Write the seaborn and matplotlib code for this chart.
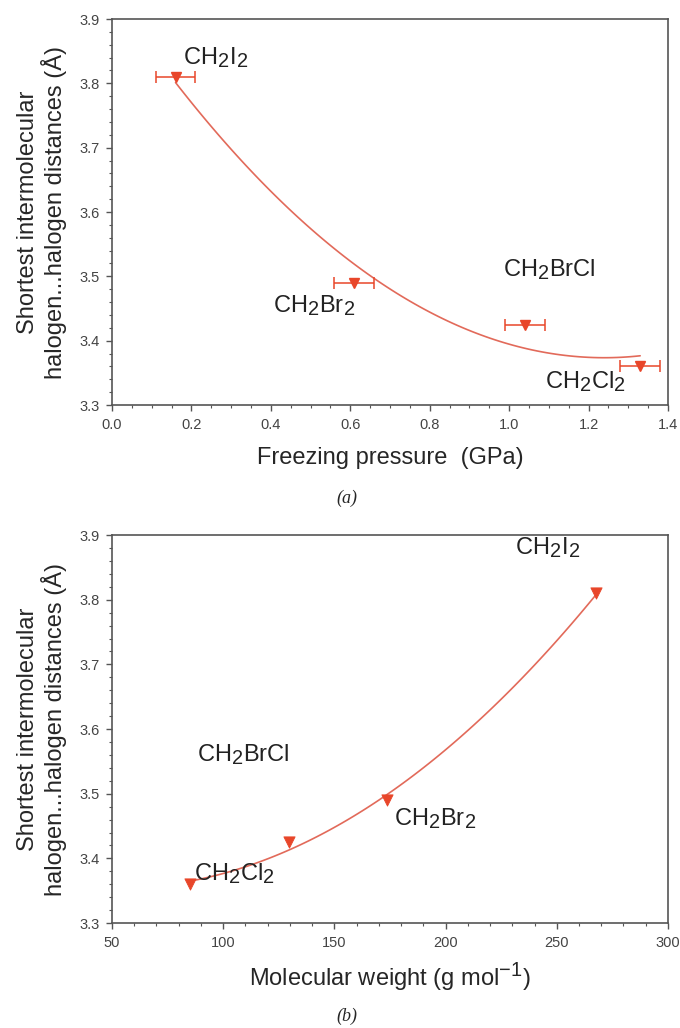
import numpy as np
import pandas as pd
import seaborn as sns
import matplotlib.pyplot as plt
import matplotlib._mathtext as mathtext_internal
from matplotlib.ticker import MultipleLocator

# data
compounds = ["CH$_2$I$_2$", "CH$_2$Br$_2$", "CH$_2$BrCl", "CH$_2$Cl$_2$"]
freeze_p = [0.16, 0.61, 1.04, 1.33]          # GPa
freeze_err = [0.05, 0.05, 0.05, 0.05]
mol_wt = [267.84, 173.83, 129.38, 84.93]      # g/mol
dist = [3.81, 3.49, 3.425, 3.36]              # Angstrom

df = pd.DataFrame({"name": compounds, "p": freeze_p, "perr": freeze_err,
                   "mw": mol_wt, "d": dist})

# label anchor points (data coords)
lab_a = [(0.18, 3.84), (0.405, 3.455), (0.985, 3.51), (1.09, 3.336)]
lab_b = [(231, 3.88), (177, 3.462), (88, 3.56), (87, 3.377)]

sns.set_style("white")
plt.rcParams['font.family'] = ['Liberation Sans', 'DejaVu Sans']
plt.rcParams['mathtext.default'] = 'regular'
# the original uses nearly full-size subscripts
mathtext_internal.SHRINK_FACTOR = 0.85

mark_c = "#e8462a"
line_c = "#e26a5a"
spine_c = "#555555"
ylab = "Shortest intermolecular\nhalogen...halogen distances (Å)"
FS = 17

fig = plt.figure(figsize=(6.8, 10.28), dpi=100)
ax1 = fig.add_axes([0.1647, 0.606, 0.8176, 0.3755])
ax2 = fig.add_axes([0.1647, 0.1021, 0.8176, 0.3774])


def style(ax):
    for s in ax.spines.values():
        s.set_color(spine_c)
        s.set_linewidth(1.2)
    ax.tick_params(axis="both", which="both", direction="out", colors=spine_c,
                   labelcolor="#444444", labelsize=10.5, top=False, right=False,
                   left=True, bottom=True)
    ax.tick_params(which="major", length=4, width=1, pad=5)
    ax.tick_params(which="minor", length=2.5, width=0.8)
    ax.set_ylim(3.3, 3.9)
    ax.yaxis.set_major_locator(MultipleLocator(0.1))
    ax.yaxis.set_minor_locator(MultipleLocator(0.02))
    ax.set_ylabel(ylab, fontsize=FS, labelpad=9, linespacing=1.1)


# (a) freezing pressure
sns.regplot(data=df, x="p", y="d", order=2, ci=None, scatter=False,
            truncate=True, ax=ax1, line_kws=dict(color=line_c, lw=1.2))
ax1.errorbar(df["p"], df["d"], xerr=df["perr"], fmt="v", color=mark_c,
             ms=7.5, capsize=4, elinewidth=1.1, capthick=1.1)
for n, (x, y) in zip(df["name"], lab_a):
    ax1.text(x, y, n, fontsize=FS, ha="left", va="center", color="#222222")
style(ax1)
ax1.set_xlim(0, 1.4)
ax1.xaxis.set_major_locator(MultipleLocator(0.2))
ax1.xaxis.set_minor_locator(MultipleLocator(0.05))
ax1.xaxis.set_major_formatter(lambda v, pos: f"{v:.1f}")
ax1.set_xlabel("Freezing pressure  (GPa)", fontsize=FS, labelpad=11)

# (b) molecular weight
sns.regplot(data=df, x="mw", y="d", order=2, ci=None, scatter=False,
            truncate=True, ax=ax2, line_kws=dict(color=line_c, lw=1.2))
sns.scatterplot(data=df, x="mw", y="d", marker="v", s=65, color=mark_c,
                edgecolor=mark_c, ax=ax2, zorder=3)
for n, (x, y) in zip(df["name"], lab_b):
    ax2.text(x, y, n, fontsize=FS, ha="left", va="center", color="#222222")
style(ax2)
ax2.set_xlim(50, 300)
ax2.xaxis.set_major_locator(MultipleLocator(50))
ax2.xaxis.set_minor_locator(MultipleLocator(10))
ax2.set_xlabel("Molecular weight (g mol$^{-1}$)", fontsize=FS, labelpad=8)

fig.text(0.51, 1 - 498 / 1028, "(a)", ha="center", va="center", fontsize=13,
         family="Liberation Serif", style="italic")
fig.text(0.51, 1 - 1016 / 1028, "(b)", ha="center", va="center", fontsize=13,
         family="Liberation Serif", style="italic")

fig.savefig("out.png", dpi=100)
